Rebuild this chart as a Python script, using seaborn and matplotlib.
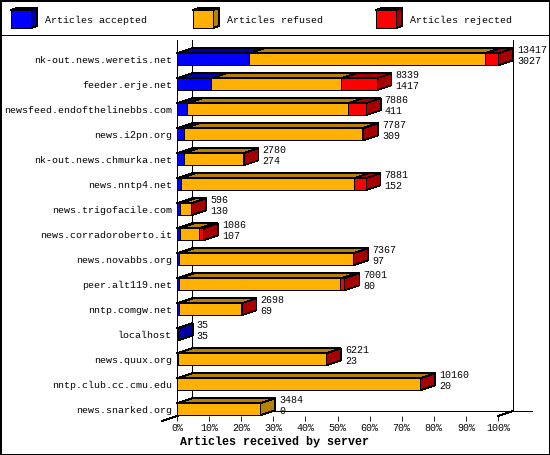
import matplotlib
matplotlib.use('Agg')
import pandas as pd
import seaborn as sns
import matplotlib.pyplot as plt
from matplotlib.patches import Polygon

servers = ['nk-out.news.weretis.net', 'feeder.erje.net', 'newsfeed.endofthelinebbs.com',
           'news.i2pn.org', 'nk-out.news.chmurka.net', 'news.nntp4.net', 'news.trigofacile.com',
           'news.corradoroberto.it', 'news.novabbs.org', 'peer.alt119.net', 'nntp.comgw.net',
           'localhost', 'news.quux.org', 'nntp.club.cc.cmu.edu', 'news.snarked.org']
totals = [13417, 8339, 7886, 7787, 2780, 7881, 596, 1086, 7367, 7001, 2698, 35, 6221, 10160, 3484]
accepted = [3027, 1417, 411, 309, 274, 152, 130, 107, 97, 80, 69, 35, 23, 20, 0]
rejected = [540, 1480, 750, 40, 20, 500, 3, 150, 10, 170, 5, 0, 3, 15, 0]
percents = list(range(0, 101, 10))

BLUE, BLUE_D = '#0000ff', '#0000a8'
ORANGE, ORANGE_D = '#ffb000', '#b88000'
RED, RED_D = '#ff0000', '#a80000'
LW = 0.6
FS = 7.2

plt.rcParams['text.hinting'] = 'native'
plt.rcParams['text.hinting_factor'] = 1
plt.rcParams['font.family'] = 'Liberation Mono'

df = pd.DataFrame({'server': servers, 'total': totals, 'accepted': accepted, 'rejected': rejected})
df['refused_end'] = df['total'] - df['rejected']

fig = plt.figure(figsize=(5.5, 4.55), dpi=100)

# camada em pixels: moldura e legenda
bg = fig.add_axes([0, 0, 1, 1])
bg.set_xlim(0, 550)
bg.set_ylim(455, 0)
bg.axis('off')
bg.add_patch(plt.Rectangle((0.5, 0.5), 549, 454, fill=False, ec='black', lw=1.4, antialiased=False))
bg.plot([0, 550], [35, 35], color='black', lw=LW, antialiased=False)
for x0, col, dark, txt in [(11, BLUE, BLUE_D, 'Articles accepted'),
                           (193, ORANGE, ORANGE_D, 'Articles refused'),
                           (376, RED, RED_D, 'Articles rejected')]:
    bg.add_patch(Polygon([(x0, 10), (x0 + 20, 10), (x0 + 26, 8), (x0 + 6, 8)], fc=dark, ec='black', lw=LW, antialiased=False))
    bg.add_patch(Polygon([(x0 + 20, 10), (x0 + 26, 8), (x0 + 26, 26), (x0 + 20, 28)], fc=dark, ec='black', lw=LW, antialiased=False))
    bg.add_patch(plt.Rectangle((x0, 10), 20, 18, fc=col, ec='black', lw=LW, antialiased=False))
    bg.text(x0 + 34, 20, txt, fontsize=FS, va='center', ha='left')

# eixo principal: 100% = maior total
ax = fig.add_axes([177 / 550, (455 - 416) / 455, 321 / 550, 376 / 455])
ax.patch.set_alpha(0)
xmax = max(totals)
dx = 15 / 321 * xmax
dy = 0.2
half = 0.24
px = xmax / 321

# barras empilhadas: do total para o menor
for col, color in [('total', RED), ('refused_end', ORANGE), ('accepted', BLUE)]:
    sns.barplot(data=df, y='server', x=col, color=color, saturation=1, width=half * 2,
                orient='h', edgecolor='black', linewidth=LW, ax=ax, zorder=3)
for p in ax.patches:
    p.set_antialiased(False)

ax.set_xlim(0, xmax)
ax.set_ylim(14 + 6.7 / 25, -19.3 / 25)
ylo, yhi = ax.get_ylim()

# paredes e linhas do fundo
line = dict(color='black', lw=LW, clip_on=False, antialiased=False, zorder=1)
ax.plot([0, 0], [ylo, yhi], **line)
ax.plot([dx, dx], [ylo - dy, yhi], **line)
ax.plot([xmax + dx, xmax + dx], [ylo - dy, yhi], **line)
ax.plot([dx, xmax + dx + 19 * px], [ylo - dy, ylo - dy], **line)
ax.plot([-dx, dx], [ylo + dy, ylo - dy], **line)
ax.plot([xmax, xmax + dx], [ylo, ylo - dy], **line)

# faces de cima e do lado
face = dict(ec='black', lw=LW, clip_on=False, antialiased=False, zorder=2)
for i, row in df.iterrows():
    top = i - half
    bottom = i + half
    segs = [(0, row['accepted'], BLUE_D), (row['accepted'], row['refused_end'], ORANGE_D),
            (row['refused_end'], row['total'], RED_D)]
    side = BLUE_D
    for a, b, dark in segs:
        if b <= a:
            continue
        side = dark
        ax.add_patch(Polygon([(a, top), (b, top), (b + dx, top - dy), (a + dx, top - dy)], fc=dark, **face))
    end = row['total']
    ax.add_patch(Polygon([(end, top), (end + dx, top - dy), (end + dx, bottom - dy), (end, bottom)], fc=side, **face))
    ax.text(end + dx + 4 * px, i - 0.35, str(row['total']), fontsize=FS, va='center', ha='left', clip_on=False, zorder=5)
    ax.text(end + dx + 4 * px, i + 0.10, str(row['accepted']), fontsize=FS, va='center', ha='left', clip_on=False, zorder=5)

sns.despine(ax=ax, left=True, bottom=True, right=True, top=True)
ax.set_xticks([p / 100 * xmax for p in percents])
ax.set_xticklabels([f'{p}%' for p in percents], fontsize=FS)
ax.tick_params(axis='x', length=3.6, width=LW, pad=2)
ax.tick_params(axis='y', length=0, pad=3.5, labelsize=FS)
ax.set_ylabel('')
ax.set_xlabel('Articles received by server', fontsize=8.4, fontweight='bold', x=(274 - 177) / 321, labelpad=2)

fig.savefig('out.png', dpi=100)
